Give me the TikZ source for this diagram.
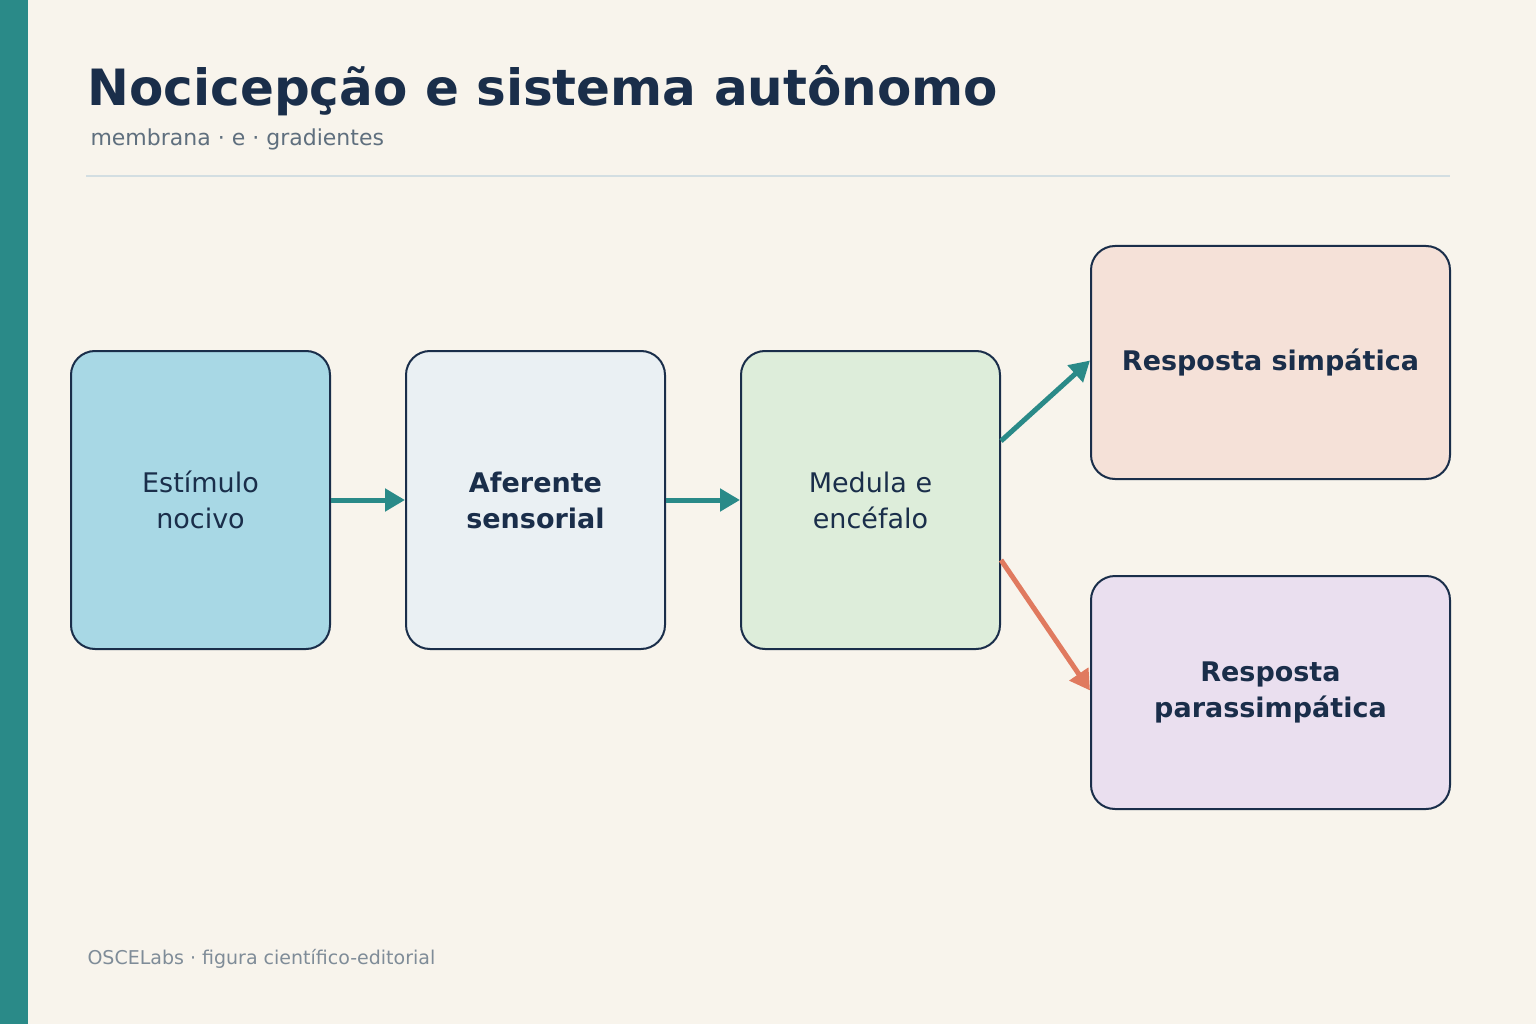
\documentclass[tikz,border=0pt]{standalone}
\usepackage{fontspec}
\setmainfont{DejaVu Sans}
\usetikzlibrary{arrows.meta}
\definecolor{bg}{HTML}{F8F4EC}
\definecolor{teal}{HTML}{2A8A88}
\definecolor{navy}{HTML}{1A2E4A}
\definecolor{orng}{HTML}{E07A5F}
\definecolor{sub}{HTML}{5F6F7E}
\definecolor{foot}{HTML}{7F8C98}
\definecolor{rule}{HTML}{D3DEE2}
\definecolor{c1}{HTML}{A8D8E5}
\definecolor{c2}{HTML}{EAF0F3}
\definecolor{c3}{HTML}{DDEDDA}
\definecolor{c4}{HTML}{F5E1D8}
\definecolor{c5}{HTML}{EADFEF}
\begin{document}
\begin{tikzpicture}[x=1pt,y=-1pt,
 box/.style={draw=navy,line width=2pt,rounded corners=24pt,align=center,text=navy,inner sep=0pt,font=\fontsize{27}{36}\selectfont},
 arr/.style={line width=5pt,-{Triangle[length=20pt,width=22pt]}}]
\fill[bg] (0,0) rectangle (1536,1024);
\useasboundingbox (0,0) rectangle (1536,1024);
\fill[teal] (0,0) rectangle (28,1024);
\node[anchor=base west,text=navy,font=\fontsize{50}{60}\selectfont\bfseries] (title) at (84,106) {Nocicepção e sistema autônomo};
\node[anchor=base west,text=sub,font=\fontsize{22}{26}\selectfont] (subt) at (87,146) {membrana · e · gradientes};
\draw[rule,line width=2.5pt] (86,176) -- (1450,176);
\node[box,fill=c1,minimum width=259pt,minimum height=298pt] (b1) at (200.5,500) {Estímulo\\nocivo};
\node[box,fill=c2,minimum width=259pt,minimum height=298pt,font=\fontsize{27}{36}\selectfont\bfseries] (b2) at (535.5,500) {Aferente\\sensorial};
\node[box,fill=c3,minimum width=259pt,minimum height=298pt] (b3) at (870.5,500) {Medula e\\encéfalo};
\node[box,fill=c4,minimum width=359pt,minimum height=233pt,font=\fontsize{27}{36}\selectfont\bfseries] (b4) at (1270.5,362.5) {Resposta simpática};
\node[box,fill=c5,minimum width=359pt,minimum height=233pt,font=\fontsize{27}{36}\selectfont\bfseries] (b5) at (1270.5,692.5) {Resposta\\parassimpática};
\draw[arr,teal] (b1.east) -- (b2.west);
\draw[arr,teal] (b2.east) -- (b3.west);
\draw[arr,teal] ([yshift=59pt]b3.east) -- ([yshift=2pt]b4.west);
\draw[arr,orng] ([yshift=-60pt]b3.east) -- ([yshift=2pt]b5.west);
\node[anchor=base west,text=foot,font=\fontsize{19}{24}\selectfont] (ft) at (84,964) {OSCELabs · figura científico-editorial};
\end{tikzpicture}
\end{document}
